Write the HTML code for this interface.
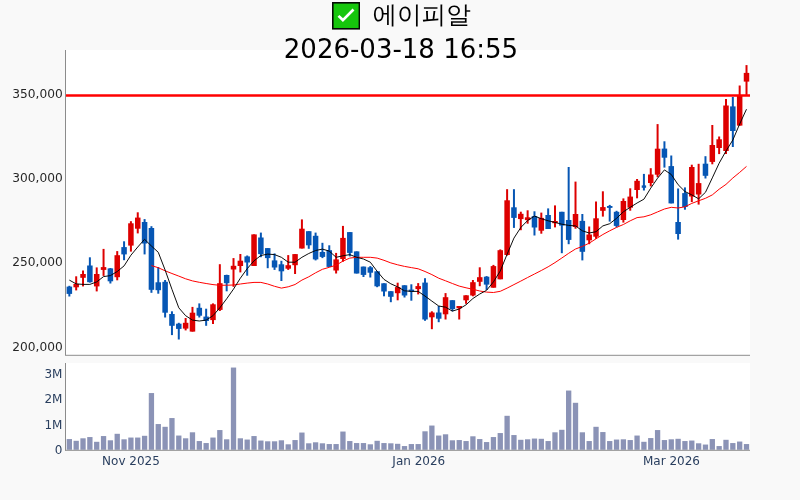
<!DOCTYPE html>
<html lang="ko">
<head>
<meta charset="utf-8">
<title>에이피알</title>
<style>
html,body{margin:0;padding:0;}
body{width:800px;height:500px;overflow:hidden;background:#f9f9f9;position:relative;font-family:"DejaVu Sans","Liberation Sans","Noto Sans CJK KR",sans-serif;}
#chart{position:absolute;left:0;top:0;width:800px;height:500px;display:block;}
.ttl{position:absolute;color:#000;white-space:nowrap;margin:0;padding:0;}
#t1{left:372.4px;top:-1px;height:32px;line-height:32px;font-size:24.6px;font-family:"Liberation Sans","WenQuanYi Zen Hei","Noto Sans CJK KR",sans-serif;}
#t2{left:283.8px;top:32.4px;height:34px;line-height:34px;font-size:26px;font-family:"DejaVu Sans","Liberation Sans",sans-serif;}
.chk{position:absolute;left:331.7px;top:2.2px;width:28.2px;height:27.6px;}
</style>
</head>
<body>
<svg id="chart" width="800" height="500" viewBox="0 0 800 500">
<rect x="0" y="0" width="800" height="500" fill="#f9f9f9"/>
<rect x="65" y="50" width="685" height="305.5" fill="#ffffff"/>
<rect x="65" y="363" width="685" height="87" fill="#ffffff"/>
<g id="volume" fill="#8b93b6">
<rect x="66.70" y="439.05" width="5.3" height="10.75"/>
<rect x="73.54" y="440.80" width="5.3" height="9.00"/>
<rect x="80.38" y="438.30" width="5.3" height="11.50"/>
<rect x="87.22" y="437.05" width="5.3" height="12.75"/>
<rect x="94.06" y="441.80" width="5.3" height="8.00"/>
<rect x="100.90" y="436.05" width="5.3" height="13.75"/>
<rect x="107.74" y="440.30" width="5.3" height="9.50"/>
<rect x="114.58" y="433.80" width="5.3" height="16.00"/>
<rect x="121.42" y="439.30" width="5.3" height="10.50"/>
<rect x="128.26" y="437.55" width="5.3" height="12.25"/>
<rect x="135.10" y="437.55" width="5.3" height="12.25"/>
<rect x="141.94" y="435.80" width="5.3" height="14.00"/>
<rect x="148.78" y="393.05" width="5.3" height="56.75"/>
<rect x="155.62" y="424.05" width="5.3" height="25.75"/>
<rect x="162.46" y="426.80" width="5.3" height="23.00"/>
<rect x="169.30" y="418.05" width="5.3" height="31.75"/>
<rect x="176.14" y="435.55" width="5.3" height="14.25"/>
<rect x="182.98" y="438.30" width="5.3" height="11.50"/>
<rect x="189.82" y="432.30" width="5.3" height="17.50"/>
<rect x="196.66" y="441.05" width="5.3" height="8.75"/>
<rect x="203.50" y="443.05" width="5.3" height="6.75"/>
<rect x="210.34" y="437.55" width="5.3" height="12.25"/>
<rect x="217.18" y="430.05" width="5.3" height="19.75"/>
<rect x="224.02" y="439.30" width="5.3" height="10.50"/>
<rect x="230.86" y="367.55" width="5.3" height="82.25"/>
<rect x="237.70" y="438.30" width="5.3" height="11.50"/>
<rect x="244.54" y="439.55" width="5.3" height="10.25"/>
<rect x="251.38" y="436.05" width="5.3" height="13.75"/>
<rect x="258.22" y="440.55" width="5.3" height="9.25"/>
<rect x="265.06" y="441.30" width="5.3" height="8.50"/>
<rect x="271.90" y="441.30" width="5.3" height="8.50"/>
<rect x="278.74" y="440.30" width="5.3" height="9.50"/>
<rect x="285.58" y="444.30" width="5.3" height="5.50"/>
<rect x="292.42" y="440.05" width="5.3" height="9.75"/>
<rect x="299.26" y="432.55" width="5.3" height="17.25"/>
<rect x="306.10" y="443.30" width="5.3" height="6.50"/>
<rect x="312.94" y="442.30" width="5.3" height="7.50"/>
<rect x="319.78" y="443.30" width="5.3" height="6.50"/>
<rect x="326.62" y="444.05" width="5.3" height="5.75"/>
<rect x="333.46" y="444.05" width="5.3" height="5.75"/>
<rect x="340.30" y="431.55" width="5.3" height="18.25"/>
<rect x="347.14" y="441.05" width="5.3" height="8.75"/>
<rect x="353.98" y="443.05" width="5.3" height="6.75"/>
<rect x="360.82" y="443.05" width="5.3" height="6.75"/>
<rect x="367.66" y="444.30" width="5.3" height="5.50"/>
<rect x="374.50" y="440.80" width="5.3" height="9.00"/>
<rect x="381.34" y="443.05" width="5.3" height="6.75"/>
<rect x="388.18" y="443.30" width="5.3" height="6.50"/>
<rect x="395.02" y="443.80" width="5.3" height="6.00"/>
<rect x="401.86" y="446.05" width="5.3" height="3.75"/>
<rect x="408.70" y="444.05" width="5.3" height="5.75"/>
<rect x="415.54" y="444.05" width="5.3" height="5.75"/>
<rect x="422.38" y="431.30" width="5.3" height="18.50"/>
<rect x="429.22" y="425.55" width="5.3" height="24.25"/>
<rect x="436.06" y="435.55" width="5.3" height="14.25"/>
<rect x="442.90" y="434.30" width="5.3" height="15.50"/>
<rect x="449.74" y="440.30" width="5.3" height="9.50"/>
<rect x="456.58" y="440.05" width="5.3" height="9.75"/>
<rect x="463.42" y="441.05" width="5.3" height="8.75"/>
<rect x="470.26" y="436.30" width="5.3" height="13.50"/>
<rect x="477.10" y="439.05" width="5.3" height="10.75"/>
<rect x="483.94" y="442.05" width="5.3" height="7.75"/>
<rect x="490.78" y="437.05" width="5.3" height="12.75"/>
<rect x="497.62" y="433.05" width="5.3" height="16.75"/>
<rect x="504.46" y="415.80" width="5.3" height="34.00"/>
<rect x="511.30" y="435.05" width="5.3" height="14.75"/>
<rect x="518.14" y="439.80" width="5.3" height="10.00"/>
<rect x="524.98" y="439.30" width="5.3" height="10.50"/>
<rect x="531.82" y="438.55" width="5.3" height="11.25"/>
<rect x="538.66" y="438.80" width="5.3" height="11.00"/>
<rect x="545.50" y="441.05" width="5.3" height="8.75"/>
<rect x="552.34" y="432.30" width="5.3" height="17.50"/>
<rect x="559.18" y="429.80" width="5.3" height="20.00"/>
<rect x="566.02" y="390.55" width="5.3" height="59.25"/>
<rect x="572.86" y="402.80" width="5.3" height="47.00"/>
<rect x="579.70" y="432.30" width="5.3" height="17.50"/>
<rect x="586.54" y="441.05" width="5.3" height="8.75"/>
<rect x="593.38" y="426.80" width="5.3" height="23.00"/>
<rect x="600.22" y="432.05" width="5.3" height="17.75"/>
<rect x="607.06" y="441.05" width="5.3" height="8.75"/>
<rect x="613.90" y="439.55" width="5.3" height="10.25"/>
<rect x="620.74" y="439.30" width="5.3" height="10.50"/>
<rect x="627.58" y="440.05" width="5.3" height="9.75"/>
<rect x="634.42" y="435.55" width="5.3" height="14.25"/>
<rect x="641.26" y="441.80" width="5.3" height="8.00"/>
<rect x="648.10" y="438.05" width="5.3" height="11.75"/>
<rect x="654.94" y="430.05" width="5.3" height="19.75"/>
<rect x="661.78" y="440.05" width="5.3" height="9.75"/>
<rect x="668.62" y="439.30" width="5.3" height="10.50"/>
<rect x="675.46" y="438.80" width="5.3" height="11.00"/>
<rect x="682.30" y="441.05" width="5.3" height="8.75"/>
<rect x="689.14" y="440.55" width="5.3" height="9.25"/>
<rect x="695.98" y="443.30" width="5.3" height="6.50"/>
<rect x="702.82" y="444.55" width="5.3" height="5.25"/>
<rect x="709.66" y="439.05" width="5.3" height="10.75"/>
<rect x="716.50" y="446.05" width="5.3" height="3.75"/>
<rect x="723.34" y="439.80" width="5.3" height="10.00"/>
<rect x="730.18" y="443.05" width="5.3" height="6.75"/>
<rect x="737.02" y="441.55" width="5.3" height="8.25"/>
<rect x="743.86" y="444.05" width="5.3" height="5.75"/>
</g>
<g id="candles">
<line x1="69.35" x2="69.35" y1="285.8" y2="296.5" stroke="#0656b4" stroke-width="2.0"/>
<rect x="66.60" y="286.6" width="5.5" height="7.3" fill="#0656b4"/>
<line x1="76.19" x2="76.19" y1="276.3" y2="290.4" stroke="#dd0000" stroke-width="2.0"/>
<rect x="73.44" y="283.9" width="5.5" height="3.4" fill="#dd0000"/>
<line x1="83.03" x2="83.03" y1="270.5" y2="286.4" stroke="#dd0000" stroke-width="2.0"/>
<rect x="80.28" y="274.0" width="5.5" height="3.8" fill="#dd0000"/>
<line x1="89.87" x2="89.87" y1="257.3" y2="282.6" stroke="#0656b4" stroke-width="2.0"/>
<rect x="87.12" y="265.5" width="5.5" height="16.7" fill="#0656b4"/>
<line x1="96.71" x2="96.71" y1="267.4" y2="291.4" stroke="#dd0000" stroke-width="2.0"/>
<rect x="93.96" y="274.0" width="5.5" height="12.4" fill="#dd0000"/>
<line x1="103.55" x2="103.55" y1="248.9" y2="275.9" stroke="#dd0000" stroke-width="2.0"/>
<rect x="100.80" y="267.1" width="5.5" height="2.8" fill="#dd0000"/>
<line x1="110.39" x2="110.39" y1="268.0" y2="283.5" stroke="#0656b4" stroke-width="2.0"/>
<rect x="107.64" y="268.4" width="5.5" height="12.9" fill="#0656b4"/>
<line x1="117.23" x2="117.23" y1="251.1" y2="280.3" stroke="#dd0000" stroke-width="2.0"/>
<rect x="114.48" y="255.2" width="5.5" height="22.0" fill="#dd0000"/>
<line x1="124.07" x2="124.07" y1="241.3" y2="260.2" stroke="#0656b4" stroke-width="2.0"/>
<rect x="121.32" y="247.1" width="5.5" height="7.3" fill="#0656b4"/>
<line x1="130.91" x2="130.91" y1="221.2" y2="251.6" stroke="#dd0000" stroke-width="2.0"/>
<rect x="128.16" y="223.3" width="5.5" height="22.3" fill="#dd0000"/>
<line x1="137.75" x2="137.75" y1="212.3" y2="233.4" stroke="#dd0000" stroke-width="2.0"/>
<rect x="135.00" y="217.6" width="5.5" height="11.1" fill="#dd0000"/>
<line x1="144.59" x2="144.59" y1="219.1" y2="254.4" stroke="#0656b4" stroke-width="2.0"/>
<rect x="141.84" y="222.0" width="5.5" height="21.5" fill="#0656b4"/>
<line x1="151.43" x2="151.43" y1="226.2" y2="292.8" stroke="#0656b4" stroke-width="2.0"/>
<rect x="148.68" y="228.0" width="5.5" height="61.8" fill="#0656b4"/>
<line x1="158.27" x2="158.27" y1="267.0" y2="293.7" stroke="#0656b4" stroke-width="2.0"/>
<rect x="155.52" y="282.3" width="5.5" height="7.9" fill="#0656b4"/>
<line x1="165.11" x2="165.11" y1="280.0" y2="317.5" stroke="#0656b4" stroke-width="2.0"/>
<rect x="162.36" y="281.8" width="5.5" height="30.9" fill="#0656b4"/>
<line x1="171.95" x2="171.95" y1="311.3" y2="335.1" stroke="#0656b4" stroke-width="2.0"/>
<rect x="169.20" y="314.0" width="5.5" height="11.8" fill="#0656b4"/>
<line x1="178.79" x2="178.79" y1="322.8" y2="339.5" stroke="#0656b4" stroke-width="2.0"/>
<rect x="176.04" y="323.7" width="5.5" height="5.2" fill="#0656b4"/>
<line x1="185.63" x2="185.63" y1="318.0" y2="330.4" stroke="#dd0000" stroke-width="2.0"/>
<rect x="182.88" y="322.8" width="5.5" height="5.8" fill="#dd0000"/>
<line x1="192.47" x2="192.47" y1="306.9" y2="331.6" stroke="#dd0000" stroke-width="2.0"/>
<rect x="189.72" y="312.7" width="5.5" height="18.9" fill="#dd0000"/>
<line x1="199.31" x2="199.31" y1="303.4" y2="317.5" stroke="#0656b4" stroke-width="2.0"/>
<rect x="196.56" y="307.8" width="5.5" height="7.9" fill="#0656b4"/>
<line x1="206.15" x2="206.15" y1="308.7" y2="325.8" stroke="#0656b4" stroke-width="2.0"/>
<rect x="203.40" y="316.6" width="5.5" height="4.4" fill="#0656b4"/>
<line x1="212.99" x2="212.99" y1="303.4" y2="324.0" stroke="#dd0000" stroke-width="2.0"/>
<rect x="210.24" y="304.3" width="5.5" height="15.8" fill="#dd0000"/>
<line x1="219.83" x2="219.83" y1="264.2" y2="311.0" stroke="#dd0000" stroke-width="2.0"/>
<rect x="217.08" y="283.2" width="5.5" height="26.7" fill="#dd0000"/>
<line x1="226.67" x2="226.67" y1="274.7" y2="291.3" stroke="#0656b4" stroke-width="2.0"/>
<rect x="223.92" y="275.0" width="5.5" height="8.2" fill="#0656b4"/>
<line x1="233.51" x2="233.51" y1="258.1" y2="286.8" stroke="#dd0000" stroke-width="2.0"/>
<rect x="230.76" y="265.8" width="5.5" height="3.7" fill="#dd0000"/>
<line x1="240.35" x2="240.35" y1="254.0" y2="272.4" stroke="#dd0000" stroke-width="2.0"/>
<rect x="237.60" y="260.7" width="5.5" height="5.3" fill="#dd0000"/>
<line x1="247.19" x2="247.19" y1="255.5" y2="275.7" stroke="#0656b4" stroke-width="2.0"/>
<rect x="244.44" y="256.4" width="5.5" height="6.1" fill="#0656b4"/>
<line x1="254.03" x2="254.03" y1="234.4" y2="266.0" stroke="#dd0000" stroke-width="2.0"/>
<rect x="251.28" y="234.4" width="5.5" height="31.6" fill="#dd0000"/>
<line x1="260.87" x2="260.87" y1="232.6" y2="257.2" stroke="#0656b4" stroke-width="2.0"/>
<rect x="258.12" y="237.5" width="5.5" height="16.6" fill="#0656b4"/>
<line x1="267.71" x2="267.71" y1="248.1" y2="268.2" stroke="#0656b4" stroke-width="2.0"/>
<rect x="264.96" y="248.1" width="5.5" height="10.0" fill="#0656b4"/>
<line x1="274.55" x2="274.55" y1="253.4" y2="269.9" stroke="#0656b4" stroke-width="2.0"/>
<rect x="271.80" y="260.4" width="5.5" height="7.1" fill="#0656b4"/>
<line x1="281.39" x2="281.39" y1="260.8" y2="281.0" stroke="#0656b4" stroke-width="2.0"/>
<rect x="278.64" y="264.3" width="5.5" height="7.0" fill="#0656b4"/>
<line x1="288.23" x2="288.23" y1="255.1" y2="269.9" stroke="#dd0000" stroke-width="2.0"/>
<rect x="285.48" y="265.2" width="5.5" height="3.5" fill="#dd0000"/>
<line x1="295.07" x2="295.07" y1="254.1" y2="274.0" stroke="#dd0000" stroke-width="2.0"/>
<rect x="292.32" y="254.1" width="5.5" height="11.1" fill="#dd0000"/>
<line x1="301.91" x2="301.91" y1="219.4" y2="248.5" stroke="#dd0000" stroke-width="2.0"/>
<rect x="299.16" y="228.7" width="5.5" height="19.8" fill="#dd0000"/>
<line x1="308.75" x2="308.75" y1="231.2" y2="248.8" stroke="#0656b4" stroke-width="2.0"/>
<rect x="306.00" y="231.2" width="5.5" height="14.1" fill="#0656b4"/>
<line x1="315.59" x2="315.59" y1="232.6" y2="260.4" stroke="#0656b4" stroke-width="2.0"/>
<rect x="312.84" y="235.8" width="5.5" height="23.6" fill="#0656b4"/>
<line x1="322.43" x2="322.43" y1="242.8" y2="258.1" stroke="#0656b4" stroke-width="2.0"/>
<rect x="319.68" y="252.0" width="5.5" height="4.9" fill="#0656b4"/>
<line x1="329.27" x2="329.27" y1="245.3" y2="266.9" stroke="#0656b4" stroke-width="2.0"/>
<rect x="326.52" y="250.2" width="5.5" height="16.7" fill="#0656b4"/>
<line x1="336.11" x2="336.11" y1="252.9" y2="273.5" stroke="#dd0000" stroke-width="2.0"/>
<rect x="333.36" y="259.4" width="5.5" height="11.1" fill="#dd0000"/>
<line x1="342.95" x2="342.95" y1="225.9" y2="261.7" stroke="#dd0000" stroke-width="2.0"/>
<rect x="340.20" y="237.9" width="5.5" height="21.1" fill="#dd0000"/>
<line x1="349.79" x2="349.79" y1="232.1" y2="256.4" stroke="#0656b4" stroke-width="2.0"/>
<rect x="347.04" y="232.1" width="5.5" height="20.8" fill="#0656b4"/>
<line x1="356.63" x2="356.63" y1="251.4" y2="273.5" stroke="#0656b4" stroke-width="2.0"/>
<rect x="353.88" y="251.4" width="5.5" height="22.1" fill="#0656b4"/>
<line x1="363.47" x2="363.47" y1="266.6" y2="277.0" stroke="#0656b4" stroke-width="2.0"/>
<rect x="360.72" y="266.6" width="5.5" height="8.3" fill="#0656b4"/>
<line x1="370.31" x2="370.31" y1="266.1" y2="277.5" stroke="#0656b4" stroke-width="2.0"/>
<rect x="367.56" y="267.3" width="5.5" height="5.4" fill="#0656b4"/>
<line x1="377.15" x2="377.15" y1="271.3" y2="287.2" stroke="#0656b4" stroke-width="2.0"/>
<rect x="374.40" y="271.3" width="5.5" height="15.0" fill="#0656b4"/>
<line x1="383.99" x2="383.99" y1="283.3" y2="296.3" stroke="#0656b4" stroke-width="2.0"/>
<rect x="381.24" y="283.3" width="5.5" height="8.2" fill="#0656b4"/>
<line x1="390.83" x2="390.83" y1="291.2" y2="302.2" stroke="#0656b4" stroke-width="2.0"/>
<rect x="388.08" y="291.2" width="5.5" height="5.6" fill="#0656b4"/>
<line x1="397.67" x2="397.67" y1="282.7" y2="300.3" stroke="#dd0000" stroke-width="2.0"/>
<rect x="394.92" y="287.1" width="5.5" height="6.1" fill="#dd0000"/>
<line x1="404.51" x2="404.51" y1="285.2" y2="297.5" stroke="#0656b4" stroke-width="2.0"/>
<rect x="401.76" y="285.3" width="5.5" height="10.2" fill="#0656b4"/>
<line x1="411.35" x2="411.35" y1="284.3" y2="300.7" stroke="#0656b4" stroke-width="2.0"/>
<rect x="408.60" y="289.6" width="5.5" height="2.1" fill="#0656b4"/>
<line x1="418.19" x2="418.19" y1="283.1" y2="294.4" stroke="#dd0000" stroke-width="2.0"/>
<rect x="415.44" y="286.1" width="5.5" height="3.0" fill="#dd0000"/>
<line x1="425.03" x2="425.03" y1="278.2" y2="320.8" stroke="#0656b4" stroke-width="2.0"/>
<rect x="422.28" y="282.6" width="5.5" height="36.9" fill="#0656b4"/>
<line x1="431.87" x2="431.87" y1="311.3" y2="329.2" stroke="#dd0000" stroke-width="2.0"/>
<rect x="429.12" y="312.5" width="5.5" height="4.8" fill="#dd0000"/>
<line x1="438.71" x2="438.71" y1="306.0" y2="322.2" stroke="#0656b4" stroke-width="2.0"/>
<rect x="435.96" y="312.5" width="5.5" height="6.2" fill="#0656b4"/>
<line x1="445.55" x2="445.55" y1="293.1" y2="319.5" stroke="#dd0000" stroke-width="2.0"/>
<rect x="442.80" y="297.2" width="5.5" height="17.1" fill="#dd0000"/>
<line x1="452.39" x2="452.39" y1="300.2" y2="311.3" stroke="#0656b4" stroke-width="2.0"/>
<rect x="449.64" y="300.2" width="5.5" height="8.8" fill="#0656b4"/>
<line x1="459.23" x2="459.23" y1="306.0" y2="319.5" stroke="#dd0000" stroke-width="2.0"/>
<rect x="456.48" y="306.0" width="5.5" height="2.3" fill="#dd0000"/>
<line x1="466.07" x2="466.07" y1="295.3" y2="303.8" stroke="#dd0000" stroke-width="2.0"/>
<rect x="463.32" y="295.3" width="5.5" height="5.0" fill="#dd0000"/>
<line x1="472.91" x2="472.91" y1="280.0" y2="296.3" stroke="#dd0000" stroke-width="2.0"/>
<rect x="470.16" y="282.2" width="5.5" height="13.3" fill="#dd0000"/>
<line x1="479.75" x2="479.75" y1="267.3" y2="286.2" stroke="#dd0000" stroke-width="2.0"/>
<rect x="477.00" y="277.2" width="5.5" height="4.6" fill="#dd0000"/>
<line x1="486.59" x2="486.59" y1="276.1" y2="289.9" stroke="#0656b4" stroke-width="2.0"/>
<rect x="483.84" y="276.7" width="5.5" height="7.9" fill="#0656b4"/>
<line x1="493.43" x2="493.43" y1="264.9" y2="287.7" stroke="#dd0000" stroke-width="2.0"/>
<rect x="490.68" y="266.1" width="5.5" height="21.6" fill="#dd0000"/>
<line x1="500.27" x2="500.27" y1="249.4" y2="279.3" stroke="#dd0000" stroke-width="2.0"/>
<rect x="497.52" y="250.2" width="5.5" height="29.1" fill="#dd0000"/>
<line x1="507.11" x2="507.11" y1="189.2" y2="255.6" stroke="#dd0000" stroke-width="2.0"/>
<rect x="504.36" y="200.3" width="5.5" height="54.7" fill="#dd0000"/>
<line x1="513.95" x2="513.95" y1="189.2" y2="227.9" stroke="#0656b4" stroke-width="2.0"/>
<rect x="511.20" y="207.3" width="5.5" height="10.6" fill="#0656b4"/>
<line x1="520.79" x2="520.79" y1="211.7" y2="230.2" stroke="#dd0000" stroke-width="2.0"/>
<rect x="518.04" y="213.8" width="5.5" height="5.3" fill="#dd0000"/>
<line x1="527.63" x2="527.63" y1="210.3" y2="223.7" stroke="#dd0000" stroke-width="2.0"/>
<rect x="524.88" y="217.3" width="5.5" height="2.8" fill="#dd0000"/>
<line x1="534.47" x2="534.47" y1="211.3" y2="235.5" stroke="#0656b4" stroke-width="2.0"/>
<rect x="531.72" y="216.1" width="5.5" height="11.4" fill="#0656b4"/>
<line x1="541.31" x2="541.31" y1="212.6" y2="233.7" stroke="#dd0000" stroke-width="2.0"/>
<rect x="538.56" y="217.9" width="5.5" height="12.8" fill="#dd0000"/>
<line x1="548.15" x2="548.15" y1="208.4" y2="229.0" stroke="#0656b4" stroke-width="2.0"/>
<rect x="545.40" y="215.0" width="5.5" height="14.0" fill="#0656b4"/>
<line x1="554.99" x2="554.99" y1="205.4" y2="227.4" stroke="#dd0000" stroke-width="2.0"/>
<rect x="552.24" y="221.0" width="5.5" height="2.2" fill="#dd0000"/>
<line x1="561.83" x2="561.83" y1="211.8" y2="253.2" stroke="#0656b4" stroke-width="2.0"/>
<rect x="559.08" y="211.8" width="5.5" height="13.8" fill="#0656b4"/>
<line x1="568.67" x2="568.67" y1="167.0" y2="244.2" stroke="#0656b4" stroke-width="2.0"/>
<rect x="565.92" y="220.0" width="5.5" height="19.9" fill="#0656b4"/>
<line x1="575.51" x2="575.51" y1="181.6" y2="228.7" stroke="#dd0000" stroke-width="2.0"/>
<rect x="572.76" y="214.0" width="5.5" height="13.0" fill="#dd0000"/>
<line x1="582.35" x2="582.35" y1="214.0" y2="260.4" stroke="#0656b4" stroke-width="2.0"/>
<rect x="579.60" y="220.9" width="5.5" height="30.9" fill="#0656b4"/>
<line x1="589.19" x2="589.19" y1="226.5" y2="244.2" stroke="#dd0000" stroke-width="2.0"/>
<rect x="586.44" y="234.5" width="5.5" height="5.8" fill="#dd0000"/>
<line x1="596.03" x2="596.03" y1="201.5" y2="238.8" stroke="#dd0000" stroke-width="2.0"/>
<rect x="593.28" y="218.3" width="5.5" height="18.4" fill="#dd0000"/>
<line x1="602.87" x2="602.87" y1="191.3" y2="216.6" stroke="#dd0000" stroke-width="2.0"/>
<rect x="600.12" y="207.1" width="5.5" height="3.7" fill="#dd0000"/>
<line x1="609.71" x2="609.71" y1="204.9" y2="221.6" stroke="#0656b4" stroke-width="2.0"/>
<rect x="606.96" y="206.0" width="5.5" height="1.9" fill="#0656b4"/>
<line x1="616.55" x2="616.55" y1="210.8" y2="227.4" stroke="#0656b4" stroke-width="2.0"/>
<rect x="613.80" y="211.8" width="5.5" height="14.1" fill="#0656b4"/>
<line x1="623.39" x2="623.39" y1="198.4" y2="222.6" stroke="#dd0000" stroke-width="2.0"/>
<rect x="620.64" y="201.0" width="5.5" height="19.0" fill="#dd0000"/>
<line x1="630.23" x2="630.23" y1="188.3" y2="210.7" stroke="#dd0000" stroke-width="2.0"/>
<rect x="627.48" y="196.6" width="5.5" height="11.1" fill="#dd0000"/>
<line x1="637.07" x2="637.07" y1="179.0" y2="198.3" stroke="#dd0000" stroke-width="2.0"/>
<rect x="634.32" y="180.8" width="5.5" height="9.2" fill="#dd0000"/>
<line x1="643.91" x2="643.91" y1="173.9" y2="190.5" stroke="#0656b4" stroke-width="2.0"/>
<rect x="641.71" y="185.4" width="4.4" height="2.4" fill="#0656b4"/>
<line x1="650.75" x2="650.75" y1="168.2" y2="186.4" stroke="#dd0000" stroke-width="2.0"/>
<rect x="648.00" y="174.5" width="5.5" height="8.5" fill="#dd0000"/>
<line x1="657.59" x2="657.59" y1="124.1" y2="177.2" stroke="#dd0000" stroke-width="2.0"/>
<rect x="654.84" y="148.7" width="5.5" height="26.0" fill="#dd0000"/>
<line x1="664.43" x2="664.43" y1="141.3" y2="167.6" stroke="#0656b4" stroke-width="2.0"/>
<rect x="661.68" y="148.6" width="5.5" height="9.1" fill="#0656b4"/>
<line x1="671.27" x2="671.27" y1="155.5" y2="203.4" stroke="#0656b4" stroke-width="2.0"/>
<rect x="668.52" y="166.1" width="5.5" height="37.3" fill="#0656b4"/>
<line x1="678.11" x2="678.11" y1="188.5" y2="239.6" stroke="#0656b4" stroke-width="2.0"/>
<rect x="675.36" y="222.0" width="5.5" height="12.0" fill="#0656b4"/>
<line x1="684.95" x2="684.95" y1="187.4" y2="209.7" stroke="#0656b4" stroke-width="2.0"/>
<rect x="682.20" y="193.1" width="5.5" height="13.9" fill="#0656b4"/>
<line x1="691.79" x2="691.79" y1="164.7" y2="202.1" stroke="#dd0000" stroke-width="2.0"/>
<rect x="689.04" y="167.0" width="5.5" height="29.5" fill="#dd0000"/>
<line x1="698.63" x2="698.63" y1="163.8" y2="204.6" stroke="#dd0000" stroke-width="2.0"/>
<rect x="695.88" y="183.1" width="5.5" height="11.4" fill="#dd0000"/>
<line x1="705.47" x2="705.47" y1="156.2" y2="178.5" stroke="#0656b4" stroke-width="2.0"/>
<rect x="702.72" y="163.7" width="5.5" height="12.1" fill="#0656b4"/>
<line x1="712.31" x2="712.31" y1="125.0" y2="164.3" stroke="#dd0000" stroke-width="2.0"/>
<rect x="709.56" y="145.0" width="5.5" height="16.9" fill="#dd0000"/>
<line x1="719.15" x2="719.15" y1="136.5" y2="154.1" stroke="#dd0000" stroke-width="2.0"/>
<rect x="716.40" y="139.3" width="5.5" height="8.7" fill="#dd0000"/>
<line x1="725.99" x2="725.99" y1="99.0" y2="154.0" stroke="#dd0000" stroke-width="2.0"/>
<rect x="723.24" y="105.5" width="5.5" height="45.5" fill="#dd0000"/>
<line x1="732.83" x2="732.83" y1="97.0" y2="147.0" stroke="#0656b4" stroke-width="2.0"/>
<rect x="730.08" y="106.4" width="5.5" height="24.6" fill="#0656b4"/>
<line x1="739.67" x2="739.67" y1="85.5" y2="125.6" stroke="#dd0000" stroke-width="2.0"/>
<rect x="736.92" y="95.6" width="5.5" height="30.0" fill="#dd0000"/>
<line x1="746.51" x2="746.51" y1="65.1" y2="94.9" stroke="#dd0000" stroke-width="2.0"/>
<rect x="743.76" y="72.9" width="5.5" height="8.7" fill="#dd0000"/>
</g>
<polyline points="151.43,265.6 158.27,267.7 165.11,270.8 171.95,273.5 178.79,276.1 185.63,278.8 192.47,280.9 199.31,282.3 206.15,283.5 212.99,284.6 219.83,285.3 226.67,285.2 233.51,285.0 240.35,284.0 247.19,283.1 254.03,282.4 260.87,282.4 267.71,284.0 274.55,286.3 281.39,288.1 288.23,286.8 295.07,284.5 301.91,280.1 308.75,276.8 315.59,272.8 322.43,269.3 329.27,267.3 336.11,265.2 342.95,261.1 349.79,258.1 356.63,257.3 363.47,257.3 370.31,257.3 377.15,258.1 383.99,260.3 390.83,262.9 397.67,264.8 404.51,266.4 411.35,267.6 418.19,268.8 425.03,271.5 431.87,274.6 438.71,278.2 445.55,280.8 452.39,283.5 459.23,286.1 466.07,287.8 472.91,289.3 479.75,291.0 486.59,292.1 493.43,292.5 500.27,291.3 507.11,288.1 513.95,284.6 520.79,281.1 527.63,277.5 534.47,274.0 541.31,270.5 548.15,266.8 554.99,262.6 561.83,258.0 568.67,253.3 575.51,249.0 582.35,246.4 589.19,243.2 596.03,238.8 602.87,234.5 609.71,230.8 616.55,227.4 623.39,224.5 630.23,220.8 637.07,217.6 643.91,216.8 650.75,214.8 657.59,211.9 664.43,209.0 671.27,207.3 678.11,208.0 684.95,206.8 691.79,203.4 698.63,200.8 705.47,198.3 712.31,194.9 719.15,189.2 725.99,184.4 732.83,178.0 739.67,172.4 746.51,166.4" fill="none" stroke="#ff0000" stroke-width="1"/>
<polyline points="69.35,280.1 76.19,283.9 83.03,284.4 89.87,284.4 96.71,281.9 103.55,276.6 110.39,275.6 117.23,271.5 124.07,265.9 130.91,255.2 137.75,247.0 144.59,239.3 151.43,246.0 158.27,252.3 165.11,270.0 171.95,289.3 178.79,307.8 185.63,315.7 192.47,320.1 199.31,321.0 206.15,320.1 212.99,315.7 219.83,307.8 226.67,298.8 233.51,289.1 240.35,278.2 247.19,268.7 254.03,260.8 260.87,255.5 267.71,254.1 274.55,254.6 281.39,257.3 288.23,262.2 295.07,262.2 301.91,257.3 308.75,253.5 315.59,250.5 322.43,249.1 329.27,251.1 336.11,257.3 342.95,255.8 349.79,254.6 356.63,257.3 363.47,259.0 370.31,262.2 377.15,271.3 383.99,279.4 390.83,283.8 397.67,286.9 404.51,290.8 411.35,291.4 418.19,291.4 425.03,296.1 431.87,301.1 438.71,306.0 445.55,307.2 452.39,311.1 459.23,309.0 466.07,304.8 472.91,298.5 479.75,294.0 486.59,290.3 493.43,281.9 500.27,271.0 507.11,254.2 513.95,238.1 520.79,227.5 527.63,220.5 534.47,216.1 541.31,218.7 548.15,220.8 554.99,222.4 561.83,224.2 568.67,225.4 575.51,225.9 582.35,230.8 589.19,233.0 596.03,231.7 602.87,225.9 609.71,223.7 616.55,218.3 623.39,211.8 630.23,207.3 637.07,203.0 643.91,199.2 650.75,188.1 657.59,178.2 664.43,169.9 671.27,174.5 678.11,184.7 684.95,191.5 691.79,194.9 698.63,198.8 705.47,192.3 712.31,177.9 719.15,163.2 725.99,151.0 732.83,140.0 739.67,124.0 746.51,109.2" fill="none" stroke="#000000" stroke-width="0.95"/>
<line x1="65" x2="750" y1="95.5" y2="95.5" stroke="#ff0000" stroke-width="2.6"/>
<line x1="65.5" x2="65.5" y1="50" y2="355" stroke="#8c8c8c" stroke-width="1"/>
<line x1="65" x2="750" y1="355.3" y2="355.3" stroke="#8c8c8c" stroke-width="1"/>
<line x1="65.5" x2="65.5" y1="363" y2="450.5" stroke="#8c8c8c" stroke-width="1"/>
<line x1="65" x2="750" y1="450.3" y2="450.3" stroke="#8c8c8c" stroke-width="1"/>
<g font-family="DejaVu Sans, Liberation Sans, sans-serif" font-size="12.2" fill="#262626" text-anchor="end">
<text x="62.7" y="97.9">350,000</text>
<text x="62.7" y="182.1">300,000</text>
<text x="62.7" y="266.3">250,000</text>
<text x="62.7" y="350.5">200,000</text>
</g>
<g font-family="DejaVu Sans, Liberation Sans, sans-serif" font-size="12" fill="#2a3f5f" text-anchor="end">
<text x="62.4" y="377.8">3M</text>
<text x="62.4" y="403.2">2M</text>
<text x="62.4" y="428.6">1M</text>
<text x="62.4" y="453.9">0</text>
</g>
<g font-family="DejaVu Sans, Liberation Sans, sans-serif" font-size="12" fill="#2a3f5f" text-anchor="middle">
<text x="131" y="465.3">Nov 2025</text>
<text x="418.8" y="465.3">Jan 2026</text>
<text x="671.5" y="465.3">Mar 2026</text>
</g>
</svg>
<svg class="chk" viewBox="0 0 28.2 27.6" aria-label="check"><rect x="0.8" y="0.8" width="26.6" height="26" fill="#16c60c" stroke="#050a05" stroke-width="1.6"/><path d="M6.5 13.9 L10.9 18.1 L21.5 7.5" fill="none" stroke="#ffffff" stroke-width="2.7" stroke-linecap="butt" stroke-linejoin="miter"/></svg>
<div class="ttl" id="t1">에이피알</div>
<div class="ttl" id="t2">2026-03-18 16:55</div>
</body>
</html>
